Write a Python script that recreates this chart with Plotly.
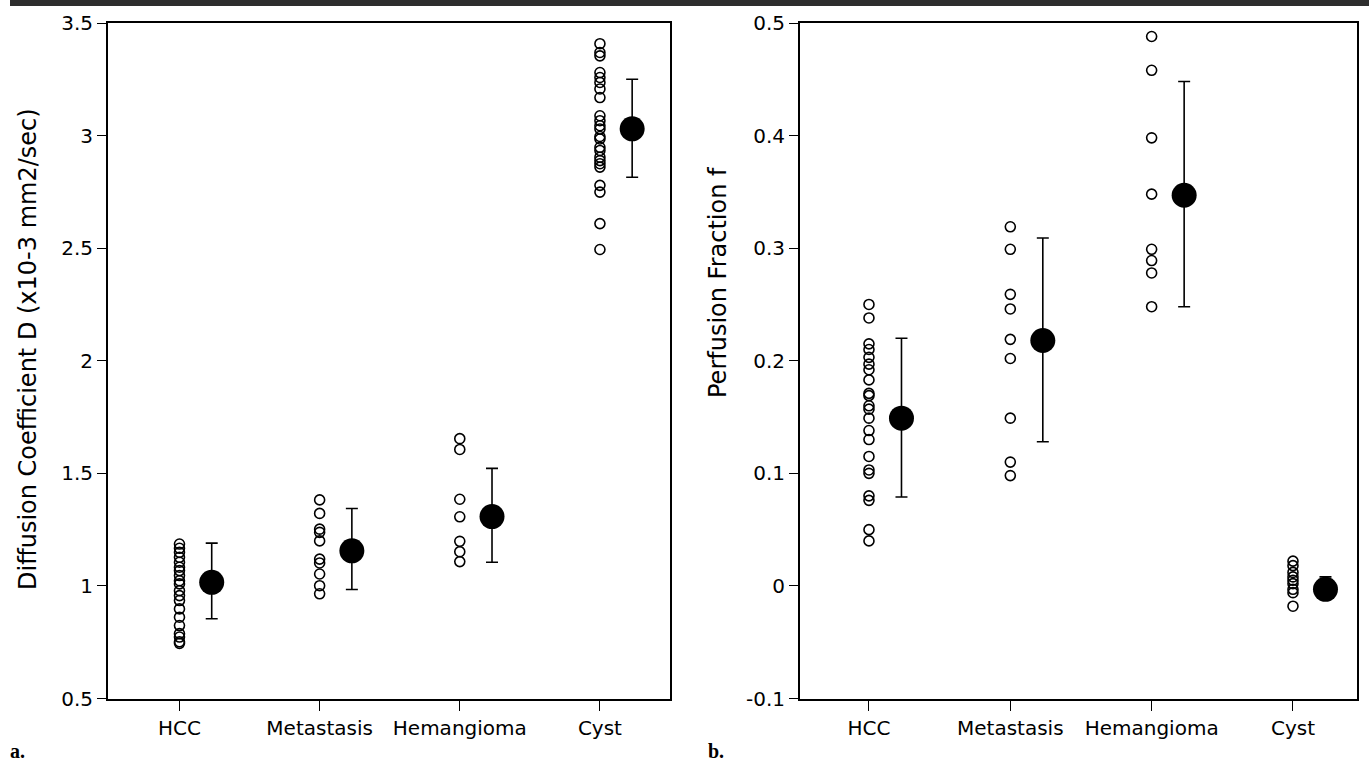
import plotly.graph_objects as go

W, H = 1369, 766

categories = ["HCC", "Metastasis", "Hemangioma", "Cyst"]

# Panel a: Diffusion coefficient D (x10-3 mm2/sec)
d_hcc = [1.186, 1.167, 1.149, 1.127, 1.105, 1.083, 1.068, 1.046, 1.023, 1.009,
         0.979, 0.957, 0.935, 0.898, 0.861, 0.824, 0.788, 0.773, 0.752, 0.745]
d_met = [1.382, 1.322, 1.252, 1.238, 1.200, 1.119, 1.102, 1.053, 1.001, 0.965]
d_hem = [1.654, 1.606, 1.385, 1.307, 1.198, 1.152, 1.108]
d_cyst = [3.408, 3.369, 3.354, 3.280, 3.258, 3.236, 3.207, 3.169, 3.088, 3.066,
          3.044, 3.029, 2.996, 2.985, 2.948, 2.934, 2.904, 2.889, 2.875, 2.860,
          2.779, 2.749, 2.609, 2.494]
d_mean = [1.016, 1.156, 1.308, 3.03]
d_err_plus = [0.174, 0.188, 0.214, 0.22]
d_err_minus = [0.162, 0.172, 0.203, 0.215]
d_ticks = [0.5, 1, 1.5, 2, 2.5, 3, 3.5]
d_ticktext = ["0.5", "1", "1.5", "2", "2.5", "3", "3.5"]

# Panel b: Perfusion fraction f
f_hcc = [0.250, 0.238, 0.215, 0.210, 0.203, 0.197, 0.192, 0.183, 0.171, 0.169,
         0.160, 0.157, 0.149, 0.138, 0.130, 0.115, 0.103, 0.100, 0.080, 0.076,
         0.050, 0.040]
f_met = [0.319, 0.299, 0.259, 0.246, 0.219, 0.202, 0.149, 0.110, 0.098]
f_hem = [0.488, 0.458, 0.398, 0.348, 0.299, 0.289, 0.278, 0.248]
f_cyst = [0.022, 0.018, 0.012, 0.008, 0.005, 0.002, -0.003, -0.006, -0.018]
f_mean = [0.149, 0.218, 0.347, -0.003]
f_err_plus = [0.071, 0.091, 0.101, 0.011]
f_err_minus = [0.070, 0.090, 0.099, 0.009]
f_ticks = [-0.1, 0, 0.1, 0.2, 0.3, 0.4, 0.5]
f_ticktext = ["-0.1", "0", "0.1", "0.2", "0.3", "0.4", "0.5"]

MEAN_OFFSET = 0.23
FONT = "DejaVu Sans"

fig = go.Figure()


def add_panel(groups, means, eplus, eminus, xa, ya):
    for i, vals in enumerate(groups):
        fig.add_trace(go.Scatter(
            x=[i + 1] * len(vals), y=vals, mode="markers",
            xaxis=xa, yaxis=ya, showlegend=False, hoverinfo="skip",
            marker=dict(symbol="circle-open", size=10, color="black",
                        line=dict(width=1.6, color="black")),
        ))
    fig.add_trace(go.Scatter(
        x=[i + 1 + MEAN_OFFSET for i in range(len(means))], y=means,
        mode="markers", xaxis=xa, yaxis=ya, showlegend=False,
        marker=dict(symbol="circle", size=25, color="black"),
        error_y=dict(type="data", array=eplus, arrayminus=eminus,
                     color="black", thickness=1.6, width=6),
    ))


add_panel([d_hcc, d_met, d_hem, d_cyst], d_mean, d_err_plus, d_err_minus, "x", "y")
add_panel([f_hcc, f_met, f_hem, f_cyst], f_mean, f_err_plus, f_err_minus, "x2", "y2")

ydom = [1 - 698.5 / H, 1 - 23 / H]

common_x = dict(
    tickvals=[1, 2, 3, 4], ticktext=categories, ticks="outside", ticklen=10,
    tickwidth=1.2, tickcolor="black", showline=True, linecolor="black",
    linewidth=2, mirror=True, showgrid=False, zeroline=False, automargin=False,
    tickfont=dict(family=FONT, size=20, color="black"), fixedrange=True,
)
common_y = dict(
    ticks="outside", ticklen=9, tickwidth=1.2, tickcolor="black",
    showline=True, linecolor="black", linewidth=2, mirror=True,
    showgrid=False, zeroline=False, automargin=False,
    tickfont=dict(family=FONT, size=20, color="black"), domain=ydom,
)

fig.update_layout(
    width=W, height=H,
    margin=dict(l=0, r=0, t=0, b=0, pad=0),
    paper_bgcolor="white", plot_bgcolor="white",
    xaxis=dict(domain=[108 / W, 670 / W], range=[0.49, 4.5], anchor="y", **common_x),
    yaxis=dict(range=[0.5, 3.5], tickvals=d_ticks, ticktext=d_ticktext, anchor="x", **common_y),
    xaxis2=dict(domain=[800 / W, 1357 / W], range=[0.512, 4.453], anchor="y2", **common_x),
    yaxis2=dict(range=[-0.1, 0.5], tickvals=f_ticks, ticktext=f_ticktext, anchor="x2", **common_y),
    annotations=[
        dict(text="Diffusion Coefficient D (x10-3 mm2/sec)", textangle=-90,
             x=28 / W, y=1 - 349 / H, xref="paper", yref="paper",
             showarrow=False, xanchor="center", yanchor="middle",
             font=dict(family=FONT, size=24, color="black")),
        dict(text="Perfusion Fraction f", textangle=-90,
             x=718 / W, y=1 - 283 / H, xref="paper", yref="paper",
             showarrow=False, xanchor="center", yanchor="middle",
             font=dict(family=FONT, size=24, color="black")),
        dict(text="<b>a.</b>", x=8 / W, y=1 - 751 / H, xref="paper", yref="paper",
             showarrow=False, xanchor="left", yanchor="middle",
             font=dict(family="Liberation Serif", size=20, color="black")),
        dict(text="<b>b.</b>", x=706 / W, y=1 - 751 / H, xref="paper", yref="paper",
             showarrow=False, xanchor="left", yanchor="middle",
             font=dict(family="Liberation Serif", size=20, color="black")),
    ],
    shapes=[
        dict(type="rect", xref="paper", yref="paper",
             x0=10 / W, x1=1.0, y0=1 - 6 / H, y1=1.0,
             fillcolor="#2e2e2e", line=dict(width=0)),
    ],
)

fig.write_html(
    "out.html",
    config={"displayModeBar": False},
    post_script="document.body.style.margin='0px';document.body.style.padding='0px';",
)
